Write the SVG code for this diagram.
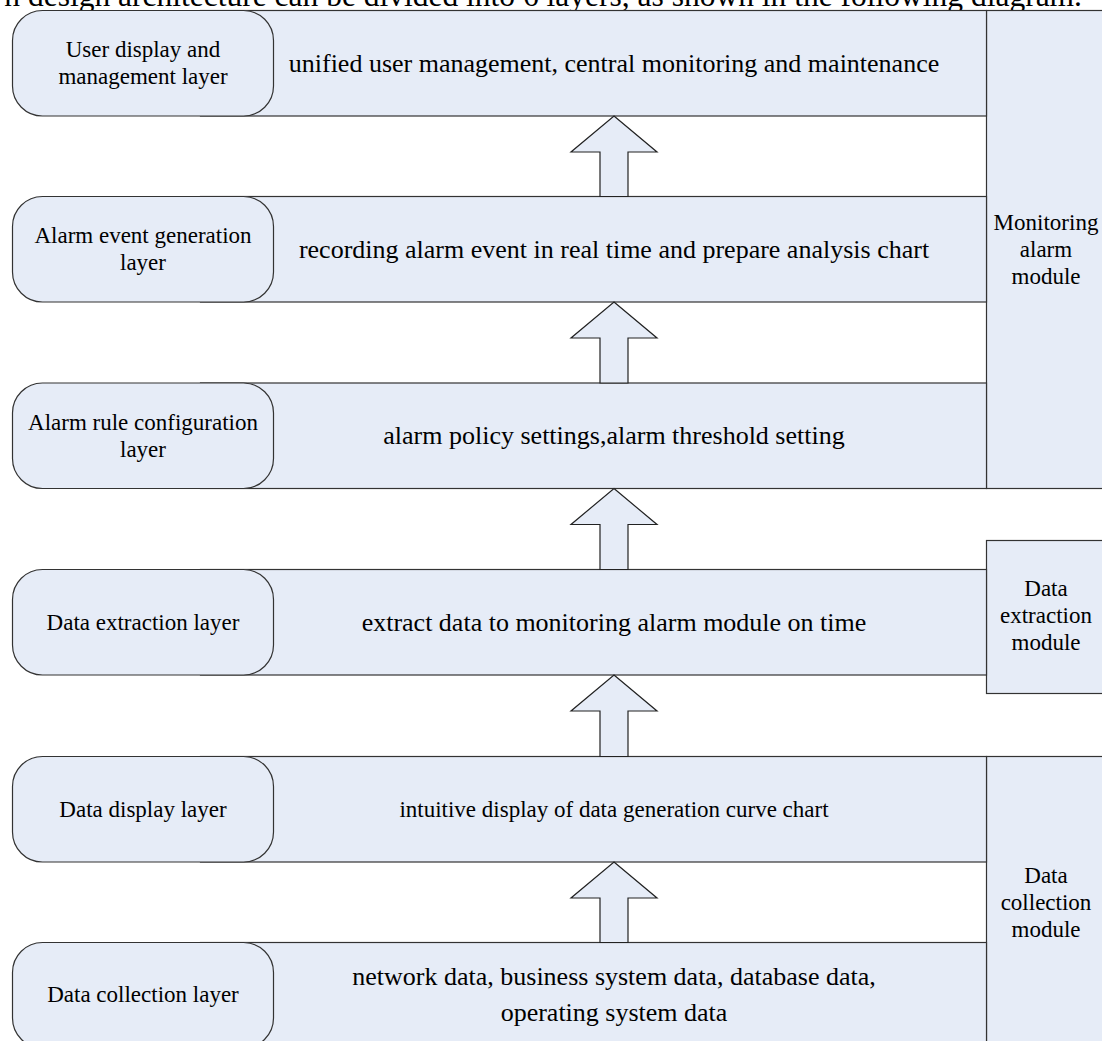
<svg xmlns="http://www.w3.org/2000/svg" width="1102" height="1041" viewBox="0 0 1102 1041">
<style>
  text { font-family: "Liberation Serif", "Times New Roman", serif; fill: #000; text-anchor: middle; }
  .lbl { font-size: 23px; }
  .main { font-size: 26px; }
  .wide { fill: #E6ECF7; stroke: #333; stroke-width: 1.2; }
  .round { fill: #E6ECF7; stroke: #333; stroke-width: 1.2; }
  .mod { fill: #E6ECF7; stroke: #333; stroke-width: 1.2; }
  .arrow { fill: #E6ECF7; stroke: #222; stroke-width: 1.2; stroke-linejoin: miter; }
</style>
<rect width="1102" height="1041" fill="#fff"/>
<text x="1082" y="6" style="font-size:31.5px;text-anchor:end">n design architecture can be divided into 6 layers, as shown in the following diagram.</text>

<g id="monitoring-module">
  <rect class="mod" x="986.5" y="10.5" width="130" height="478"/>
  <text class="lbl" x="1046" y="229.5">Monitoring</text>
  <text class="lbl" x="1046" y="256.5">alarm</text>
  <text class="lbl" x="1046" y="283.5">module</text>
</g>
<g id="extraction-module">
  <rect class="mod" x="986.5" y="540.5" width="130" height="153"/>
  <text class="lbl" x="1046" y="596">Data</text>
  <text class="lbl" x="1046" y="623">extraction</text>
  <text class="lbl" x="1046" y="650">module</text>
</g>
<g id="collection-module">
  <rect class="mod" x="986.5" y="756.5" width="130" height="300"/>
  <text class="lbl" x="1046" y="883">Data</text>
  <text class="lbl" x="1046" y="910">collection</text>
  <text class="lbl" x="1046" y="937">module</text>
</g>

<g id="layer-user-display">
  <rect class="wide" x="200.5" y="10.5" width="786" height="105.5"/>
  <rect class="round" x="12.5" y="10.5" width="261" height="105.5" rx="30" ry="30"/>
  <text class="lbl" x="143" y="57">User display and</text>
  <text class="lbl" x="143" y="84">management layer</text>
  <text class="main" x="614" y="71.5">unified user management, central monitoring and maintenance</text>
</g>
<g id="layer-alarm-event">
  <rect class="wide" x="200.5" y="196.5" width="786" height="105.5"/>
  <rect class="round" x="12.5" y="196.5" width="261" height="105.5" rx="30" ry="30"/>
  <text class="lbl" x="143" y="243">Alarm event generation</text>
  <text class="lbl" x="143" y="270">layer</text>
  <text class="main" x="614" y="258">recording alarm event in real time and prepare analysis chart</text>
</g>
<g id="layer-alarm-rule">
  <rect class="wide" x="200.5" y="383" width="786" height="105.5"/>
  <rect class="round" x="12.5" y="383" width="261" height="105.5" rx="30" ry="30"/>
  <text class="lbl" x="143" y="429.5">Alarm rule configuration</text>
  <text class="lbl" x="143" y="456.5">layer</text>
  <text class="main" x="614" y="444">alarm policy settings,alarm threshold setting</text>
</g>
<g id="layer-data-extraction">
  <rect class="wide" x="200.5" y="569.5" width="786" height="105.5"/>
  <rect class="round" x="12.5" y="569.5" width="261" height="105.5" rx="30" ry="30"/>
  <text class="lbl" x="143" y="629.5">Data extraction layer</text>
  <text class="main" x="614" y="631">extract data to monitoring alarm module on time</text>
</g>
<g id="layer-data-display">
  <rect class="wide" x="200.5" y="756.5" width="786" height="105.5"/>
  <rect class="round" x="12.5" y="756.5" width="261" height="105.5" rx="30" ry="30"/>
  <text class="lbl" x="143" y="816.5">Data display layer</text>
  <text class="lbl" x="614" y="816.5">intuitive display of data generation curve chart</text>
</g>
<g id="layer-data-collection">
  <rect class="wide" x="200.5" y="942.5" width="786" height="105.5"/>
  <rect class="round" x="12.5" y="942.5" width="261" height="105.5" rx="30" ry="30"/>
  <text class="lbl" x="143" y="1002">Data collection layer</text>
  <text class="main" x="614" y="985">network data, business system data, database data,</text>
  <text class="main" x="614" y="1021">operating system data</text>
</g>

<g id="connectors">
  <polygon class="arrow" points="614,116 657,152 628,152 628,196.5 600,196.5 600,152 571,152"/>
  <polygon class="arrow" points="614,302 657,338 628,338 628,383 600,383 600,338 571,338"/>
  <polygon class="arrow" points="614,488.5 657,524.5 628,524.5 628,569.5 600,569.5 600,524.5 571,524.5"/>
  <polygon class="arrow" points="614,675 657,711 628,711 628,756.5 600,756.5 600,711 571,711"/>
  <polygon class="arrow" points="614,862 657,898 628,898 628,942.5 600,942.5 600,898 571,898"/>
</g>
</svg>
